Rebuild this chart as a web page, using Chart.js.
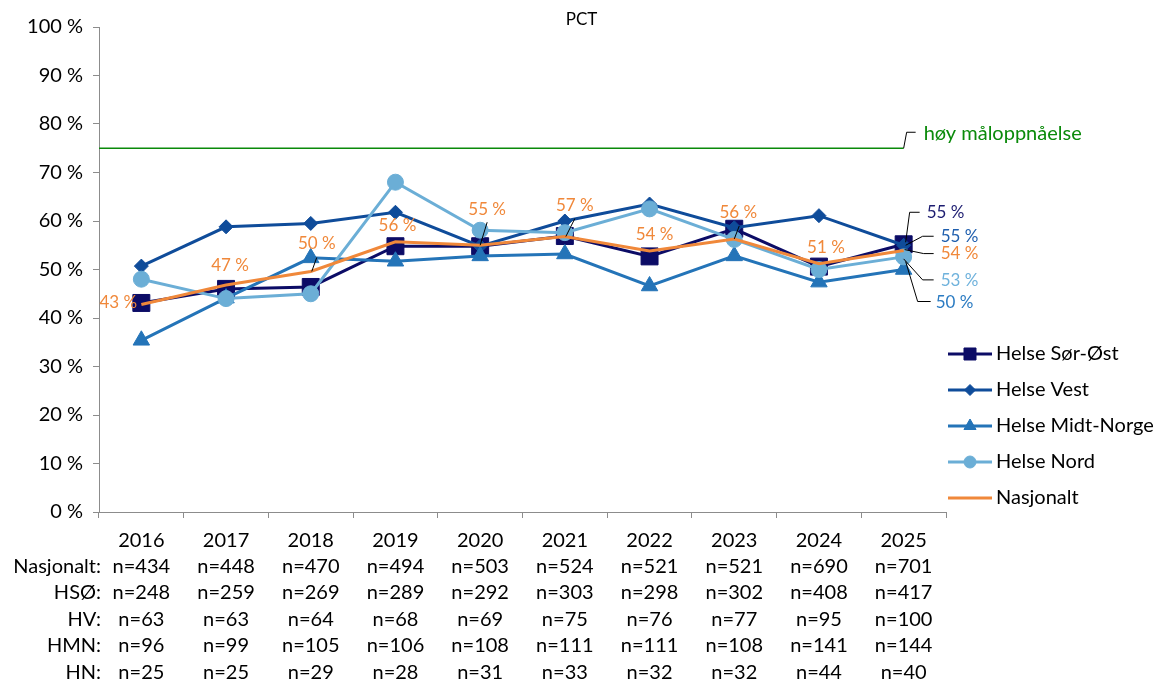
<!DOCTYPE html>
<html>
<head>
<meta charset="utf-8">
<script src="https://cdn.jsdelivr.net/npm/chart.js@4.4.1/dist/chart.umd.min.js"></script>
<style>
  html, body { margin: 0; padding: 0; background: #fff; }
  #wrap { width: 1163px; height: 684px; }
</style>
</head>
<body>
<div id="wrap"><canvas id="pctChart" width="1163" height="684"></canvas></div>
<script>
// ==========================================
// Data
// ==========================================

const YEARS = ['2016', '2017', '2018', '2019', '2020', '2021', '2022', '2023', '2024', '2025'];

const HSO  = [43.1, 46.0, 46.4, 54.8, 54.8, 56.9, 52.7, 58.4, 50.6, 55.2];
const HV   = [50.7, 58.8, 59.5, 61.8, 54.8, 60.0, 63.5, 58.6, 61.1, 55.0];
const HMN  = [35.4, 44.1, 52.4, 51.7, 52.8, 53.2, 46.6, 52.8, 47.4, 50.0];
const HN   = [48.0, 44.0, 45.0, 68.0, 58.1, 57.6, 62.5, 56.2, 50.0, 52.6];
const NASJ = [42.8, 46.8, 49.6, 55.7, 55.0, 56.8, 53.8, 56.3, 51.2, 53.9];

const TARGET = 75;
const TARGET_LABEL = 'høy måloppnåelse';

// n per year, one row each under the x axis
const N_ROWS = ['Nasjonalt:', 'HSØ:', 'HV:', 'HMN:', 'HN:'];
const N_NASJ = [434, 448, 470, 494, 503, 524, 521, 521, 690, 701];
const N_HSO  = [248, 259, 269, 289, 292, 303, 298, 302, 408, 417];
const N_HV   = [63, 63, 64, 68, 69, 75, 76, 77, 95, 100];
const N_HMN  = [96, 99, 105, 106, 108, 111, 111, 108, 141, 144];
const N_HN   = [25, 25, 29, 28, 31, 33, 32, 32, 44, 40];

// ==========================================
// Styles
// ==========================================

const FONT = 'Lato, "Open Sans", sans-serif';
const FS = 20;          // axis / legend font size
const C_HSO = '#0c0c66';
const C_HV = '#0f4c9a';
const C_HMN = '#2474b8';
const C_HN = '#6baed6';
const C_NASJ = '#f0883a';
const C_GREEN = '#0a8a0a';

const LINE_H = 26.4;    // row height of the n= table
const TICK_LEN = 6;
const TICK_PAD = 9;

const xLabels = YEARS.map((y, i) => [y, 'n=' + N_NASJ[i], 'n=' + N_HSO[i], 'n=' + N_HV[i], 'n=' + N_HMN[i], 'n=' + N_HN[i]]);

const pct = v => Math.round(v) + ' %';

// value labels: dataset index, point index, text offset, optional leader (relative to point)
const VALUE_LABELS = [
    { ds: 4, i: 0, dx: -23, dy: -2 },
    { ds: 4, i: 1, dx: 4, dy: -20 },
    { ds: 4, i: 2, dx: 6, dy: -28, leader: [[6, -14], [1, 0]] },
    { ds: 4, i: 3, dx: 2, dy: -16 },
    { ds: 4, i: 4, dx: 7, dy: -36, leader: [[7, -23], [0, 0]] },
    { ds: 4, i: 5, dx: 10, dy: -31, leader: [[10, -18], [1, 0]] },
    { ds: 4, i: 6, dx: 5, dy: -17 },
    { ds: 4, i: 7, dx: 4, dy: -26, leader: [[5, -13], [0, 0]] },
    { ds: 4, i: 8, dx: 7, dy: -16 },
    // right-hand labels at 2025
    { ds: 0, i: 9, dx: 23, dy: -32, align: 'left', leader: [[2, -2], [6, -32], [16, -32]] },
    { ds: 1, i: 9, dx: 37, dy: -9, align: 'left', leader: [[2, 0], [19, -9], [30, -9]] },
    { ds: 4, i: 9, dx: 37, dy: 3, align: 'left', leader: [[1, -1], [20, 3], [30, 3]] },
    { ds: 3, i: 9, dx: 37, dy: 24, align: 'left', leader: [[0, 2], [19, 23], [30, 23]] },
    { ds: 2, i: 9, dx: 32, dy: 33, align: 'left', leader: [[2, -8], [14, 32], [27, 32]] }
];

const LABEL_COLORS = ['#1c1c70', '#1f5fae', '#2b7bc2', '#6fb2dc', '#f0883a'];

// ==========================================
// Plugins
// ==========================================

const extrasPlugin = {
    id: 'extras',
    afterDatasetsDraw(chart) {
        const ctx = chart.ctx;
        const area = chart.chartArea;
        const x = chart.scales.x;
        const y = chart.scales.y;

        // target line + leader + label
        const ty = y.getPixelForValue(TARGET);
        const tx = x.getPixelForValue(YEARS.length - 1);
        ctx.save();
        ctx.strokeStyle = C_GREEN;
        ctx.lineWidth = 1.5;
        ctx.beginPath();
        ctx.moveTo(area.left, ty);
        ctx.lineTo(tx, ty);
        ctx.stroke();
        ctx.strokeStyle = '#000';
        ctx.lineWidth = 1;
        ctx.beginPath();
        ctx.moveTo(tx, ty);
        ctx.lineTo(tx + 3, ty - 16);
        ctx.lineTo(tx + 12, ty - 16);
        ctx.stroke();
        ctx.fillStyle = C_GREEN;
        ctx.font = FS + 'px ' + FONT;
        ctx.textBaseline = 'middle';
        ctx.textAlign = 'left';
        ctx.fillText(TARGET_LABEL, tx + 20, ty - 15);

        // value labels
        ctx.font = '17px ' + FONT;
        VALUE_LABELS.forEach(l => {
            const pt = chart.getDatasetMeta(l.ds).data[l.i];
            const v = chart.data.datasets[l.ds].data[l.i];
            if (l.leader) {
                ctx.strokeStyle = '#000';
                ctx.lineWidth = 1;
                ctx.beginPath();
                l.leader.forEach((p, k) => {
                    if (k === 0) ctx.moveTo(pt.x + p[0], pt.y + p[1]);
                    else ctx.lineTo(pt.x + p[0], pt.y + p[1]);
                });
                ctx.stroke();
            }
            ctx.fillStyle = LABEL_COLORS[l.ds];
            ctx.textAlign = l.align || 'center';
            ctx.fillText(pct(v), pt.x + l.dx, pt.y + l.dy);
        });

        // title
        ctx.fillStyle = '#000';
        ctx.textAlign = 'center';
        ctx.font = '17px ' + FONT;
        ctx.fillText('PCT', chart.width / 2, 20);

        // row headers for the n= table
        ctx.font = FS + 'px ' + FONT;
        ctx.textAlign = 'right';
        N_ROWS.forEach((r, k) => {
            const ry = area.bottom + TICK_LEN + TICK_PAD + LINE_H * (k + 1) + LINE_H / 2;
            ctx.fillText(r, 101, ry);
        });

        // legend
        const items = [
            { t: 'Helse Sør-Øst', c: C_HSO, s: 'rect', r: 8.5 },
            { t: 'Helse Vest', c: C_HV, s: 'rectRot', r: 5.5 },
            { t: 'Helse Midt-Norge', c: C_HMN, s: 'triangle', r: 7 },
            { t: 'Helse Nord', c: C_HN, s: 'circle', r: 6 },
            { t: 'Nasjonalt', c: C_NASJ, s: false, r: 0 }
        ];
        ctx.textAlign = 'left';
        items.forEach((it, k) => {
            const ly = 354 + k * 36;
            ctx.strokeStyle = it.c;
            ctx.lineWidth = 3;
            ctx.beginPath();
            ctx.moveTo(948, ly);
            ctx.lineTo(992, ly);
            ctx.stroke();
            if (it.s) {
                ctx.fillStyle = it.c;
                ctx.strokeStyle = it.c;
                ctx.lineWidth = 1;
                Chart.helpers.drawPoint(ctx, { pointStyle: it.s, radius: it.r, rotation: 0, borderWidth: 1 }, 970, ly);
            }
            ctx.fillStyle = '#000';
            ctx.fillText(it.t, 996, ly);
        });
        ctx.restore();
    }
};

// ==========================================
// Chart
// ==========================================

function series(label, data, color, style, radius, order) {
    return {
        label: label,
        data: data,
        borderColor: color,
        backgroundColor: color,
        borderWidth: 3,
        pointStyle: style,
        pointRadius: radius,
        pointBorderWidth: 1,
        pointHoverRadius: radius,
        order: order,
        tension: 0
    };
}

const chart = new Chart(document.getElementById('pctChart').getContext('2d'), {
    type: 'line',
    data: {
        labels: xLabels,
        datasets: [
            series('Helse Sør-Øst', HSO, C_HSO, 'rect', 12, 4),
            series('Helse Vest', HV, C_HV, 'rectRot', 7, 3),
            series('Helse Midt-Norge', HMN, C_HMN, 'triangle', 9.5, 2),
            series('Helse Nord', HN, C_HN, 'circle', 8, 1),
            series('Nasjonalt', NASJ, C_NASJ, false, 0, 0)
        ]
    },
    options: {
        responsive: false,
        animation: false,
        layout: { padding: { top: 27, right: 217, left: 0, bottom: 0 } },
        plugins: {
            legend: { display: false },
            title: { display: false },
            tooltip: { enabled: false }
        },
        scales: {
            x: {
                offset: true,
                grid: { offset: true, drawOnChartArea: false, drawTicks: true, tickLength: TICK_LEN, color: '#8c8c8c' },
                border: { color: '#8c8c8c', width: 1 },
                ticks: {
                    color: '#000',
                    font: { family: FONT, size: FS, lineHeight: LINE_H / FS },
                    padding: TICK_PAD,
                    maxRotation: 0,
                    autoSkip: false
                },
                afterFit(scale) { scale.height = 172; }
            },
            y: {
                min: 0,
                max: 100,
                grid: { drawOnChartArea: false, drawTicks: true, tickLength: TICK_LEN, color: '#8c8c8c' },
                border: { color: '#8c8c8c', width: 1 },
                ticks: {
                    stepSize: 10,
                    color: '#000',
                    font: { family: FONT, size: FS },
                    padding: 10,
                    callback: v => v + ' %'
                },
                afterFit(scale) { scale.width = 99; }
            }
        }
    },
    plugins: [extrasPlugin]
});
</script>
</body>
</html>
